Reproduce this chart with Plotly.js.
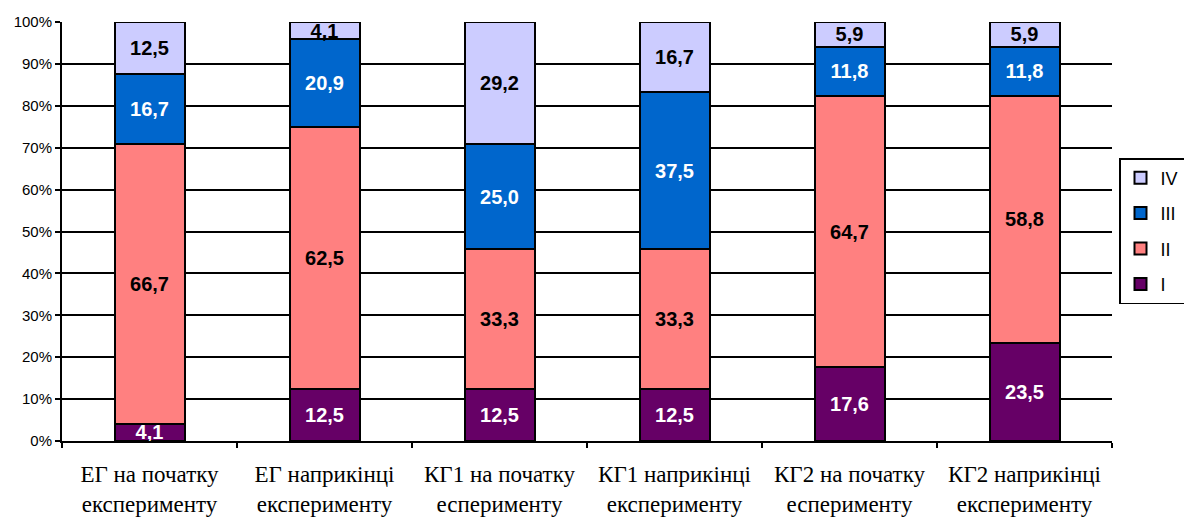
<!DOCTYPE html>
<html><head><meta charset="utf-8">
<script src="https://cdn.plot.ly/plotly-3.0.1.min.js"></script>
<style>html,body{margin:0;padding:0;background:#fff}</style>
</head><body>
<div id="chart" style="width:1184px;height:518px"></div>
<script>
const categories = [
  "ЕГ на початку<br>експерименту",
  "ЕГ наприкінці<br>експерименту",
  "КГ1 на початку<br>еспериментy",
  "КГ1 наприкінці<br>експерименту",
  "КГ2 на початку<br>еспериментy",
  "КГ2 наприкінці<br>експерименту"
];
const levelI   = [4.1, 12.5, 12.5, 12.5, 17.6, 23.5];
const levelII  = [66.7, 62.5, 33.3, 33.3, 64.7, 58.8];
const levelIII = [16.7, 20.9, 25.0, 37.5, 11.8, 11.8];
const levelIV  = [12.5, 4.1, 29.2, 16.7, 5.9, 5.9];
const seriesNames = ["I", "II", "III", "IV"];

const colors = ["#660066", "#FF8080", "#0066CC", "#CCCCFF"];
const textColors = ["#ffffff", "#000000", "#ffffff", "#000000"];
const series = [levelI, levelII, levelIII, levelIV];

const fmt = v => v.toFixed(1).replace(".", ",");

const traces = series.map((vals, i) => ({
  type: "bar",
  name: seriesNames[i],
  x: categories,
  y: vals,
  text: vals.map(fmt),
  textposition: "inside",
  insidetextanchor: "middle",
  constraintext: "none",
  textangle: 0,
  textfont: {family: "Arial, Liberation Sans, sans-serif", size: 20, color: textColors[i], weight: "bold"},
  marker: {color: colors[i], line: {color: "#000", width: 2}},
  legendgroup: "g" + i,
  legendrank: 10 - i,
  hoverinfo: "skip"
}));

const layout = {
  barmode: "stack",
  bargap: 0.6,
  margin: {l: 62, r: 72, t: 22, b: 77},
  paper_bgcolor: "#fff",
  plot_bgcolor: "#fff",
  showlegend: true,
  legend: {
    xref: "container", yref: "container",
    x: 1119 / 1184, y: 1 - 158 / 518, xanchor: "left", yanchor: "top",
    bordercolor: "#000", borderwidth: 1.5, bgcolor: "#fff",
    traceorder: "grouped",
    tracegroupgap: 9,
    font: {family: "Arial, Liberation Sans, sans-serif", size: 18, color: "#000"},
    itemwidth: 30
  },
  xaxis: {
    type: "category",
    showgrid: false,
    showline: true, linecolor: "#000", linewidth: 2,
    ticks: "outside", ticklen: 5, tickcolor: "#000", tickwidth: 2,
    tickson: "boundaries",
    ticklabelstandoff: 11,
    tickfont: {family: "Liberation Serif, Times New Roman, serif", size: 23, color: "#000"}
  },
  yaxis: {
    range: [0, 100],
    dtick: 10,
    ticksuffix: "%",
    showgrid: true, gridcolor: "#000", gridwidth: 2,
    showline: true, linecolor: "#000", linewidth: 2,
    ticks: "outside", ticklen: 5, tickcolor: "#000", tickwidth: 2,
    zeroline: false,
    tickfont: {family: "Arial, Liberation Sans, sans-serif", size: 15, color: "#000"}
  }
};

Plotly.newPlot("chart", traces, layout, {displayModeBar: false, staticPlot: true});
</script>
</body></html>
